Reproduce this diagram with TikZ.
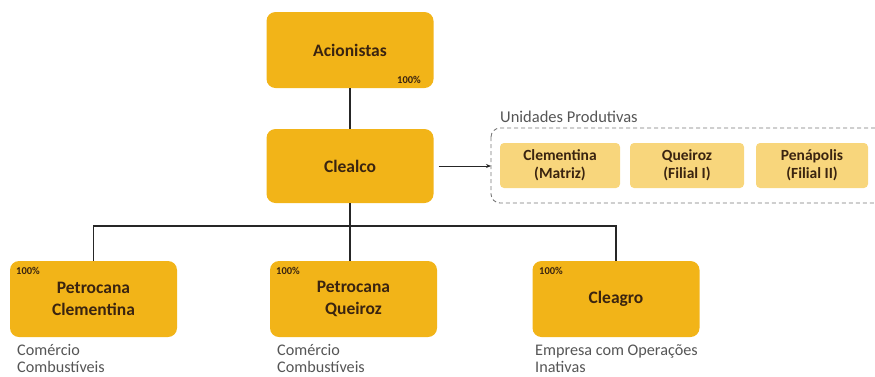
\documentclass[tikz,border=0pt]{standalone}
\usepackage{fontspec}
\setmainfont{Carlito}
\usetikzlibrary{arrows.meta,fit}
\definecolor{gold}{HTML}{F2B418}
\definecolor{pale}{HTML}{F8D67C}
\definecolor{ink}{HTML}{3A2410}
\definecolor{note}{HTML}{555555}
\tikzset{
  company/.style={draw=none, fill=gold, rounded corners=9pt, minimum width=167pt, minimum height=76pt,
    align=center, text=ink, font=\fontsize{17.5}{22}\selectfont\bfseries, inner sep=0pt},
  unit/.style={fill=pale, rounded corners=4pt, minimum height=45pt, align=center, text=ink,
    font=\fontsize{15.5}{18}\selectfont\bfseries, inner sep=0pt},
  pct/.style={font=\fontsize{10.5}{12}\selectfont\bfseries, text=ink, inner sep=0pt},
  desc/.style={font=\fontsize{16.2}{17.5}\selectfont, text=note, align=left, anchor=north west, inner sep=0pt},
  link/.style={draw=black!85, line width=1.1pt},
}
\begin{document}
\begin{tikzpicture}[x=1pt,y=-1pt]
\useasboundingbox (0,0) rectangle (875,376);
\clip (0,0) rectangle (875,376);
\node[company] (acion) at (350,50) {Acionistas};
\node[pct, anchor=east] (p0) at (421,80) {100\%};
\node[company, minimum height=74pt] (clealco) at (350,166) {Clealco};
\node[company] (pc) at (93.5,299) {Petrocana\\Clementina};
\node[company] (pq) at (353.5,299) {Petrocana\\Queiroz};
\node[company] (cg) at (616,299) {Cleagro};
\node[pct, anchor=west] (p1) at (16,271) {100\%};
\node[pct, anchor=west] (p2) at (276,271) {100\%};
\node[pct, anchor=west] (p3) at (539,271) {100\%};
\node[unit, minimum width=120pt] (u1) at (560,165.5) {Clementina\\(Matriz)};
\node[unit, minimum width=114pt] (u2) at (687,165.5) {Queiroz\\(Filial I)};
\node[unit, minimum width=112pt] (u3) at (812,165.5) {Penápolis\\(Filial II)};
\coordinate (ul) at (491,128);
\coordinate (lr) at (895,203);
\draw[dash pattern=on 4pt off 3pt, draw=note!80, line width=0.9pt, rounded corners=9pt] (ul) rectangle (lr);
\node[font=\fontsize{16.5}{18}\selectfont, text=note, anchor=west, inner sep=0pt] (ulab) at (500,117) {Unidades Produtivas};
\coordinate (dbw) at (491,166);
\draw[link, line width=0.9pt, -{Stealth[length=5pt,width=4pt]}] ([xshift=5pt]clealco.east) -- (dbw);
\draw[link] (acion.south) -- (clealco.north);
\coordinate (hub) at (350,226);
\draw[link] (clealco.south) -- (hub);
\draw[link] (pc.north) |- (hub) -| (cg.north);
\draw[link] (hub) -- (pq.north -| hub);
\node[desc] (d1) at (17,344) {Comércio\\Combustíveis};
\node[desc] (d2) at (277,344) {Comércio\\Combustíveis};
\node[desc] (d3) at (535,344) {Empresa com Operações\\Inativas};
\end{tikzpicture}
\end{document}
